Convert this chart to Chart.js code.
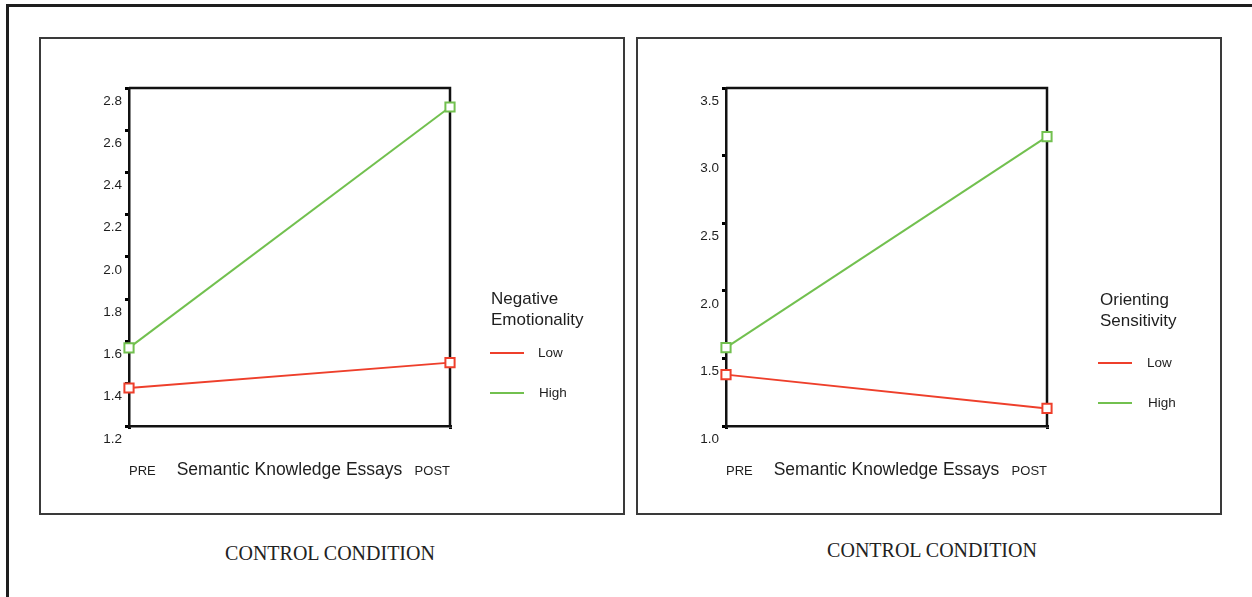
<!DOCTYPE html>
<html>
<head>
<meta charset="utf-8">
<script src="https://cdn.jsdelivr.net/npm/chart.js@4"></script>
<style>
  html, body { margin: 0; padding: 0; background: #fff; }
  #page { position: relative; width: 1252px; height: 597px; overflow: hidden; }
  .outer { position: absolute; left: 6px; top: 4px; width: 1400px; height: 800px;
           border-top: 3px solid #1e1e1e; border-left: 3px solid #1e1e1e; }
  .panel { position: absolute; top: 37px; width: 586px; height: 478px;
           box-sizing: border-box; border: 2px solid #3a3a3a; }
  .panel canvas { position: absolute; left: 0; top: 0; }
  .caption { position: absolute; width: 400px; text-align: center; color: #222;
             font-family: "Liberation Serif", "Times New Roman", serif;
             font-size: 20px; line-height: 20px; }
</style>
</head>
<body>
<div id="page">
  <div class="outer"></div>
  <div class="panel" style="left:39px"><canvas id="negEmo" width="582" height="474" style="width:582px;height:474px"></canvas></div>
  <div class="panel" style="left:636px"><canvas id="orient" width="582" height="474" style="width:582px;height:474px"></canvas></div>
  <div class="caption" style="left:130px;top:543px">CONTROL CONDITION</div>
  <div class="caption" style="left:732px;top:540px">CONTROL CONDITION</div>
</div>
<script>
// x categories shared by both panels
const phases = ["PRE", "POST"];

// Negative Emotionality panel
const negEmoLow = [1.38, 1.50];
const negEmoHigh = [1.57, 2.71];
const negEmoTicks = [1.2, 1.4, 1.6, 1.8, 2.0, 2.2, 2.4, 2.6, 2.8];

// Orienting Sensitivity panel
const orientLow = [1.38, 1.13];
const orientHigh = [1.58, 3.14];
const orientTicks = [1.0, 1.5, 2.0, 2.5, 3.0, 3.5];

const seriesNames = ["Low", "High"];
const RED = "#ee3f2b";
const GREEN = "#72c04f";
const SANS = '"Liberation Sans", Arial, sans-serif';

// top + right edges of the plot box (the axes only give left/bottom)
const frameBox = {
  id: "frameBox",
  beforeDatasetsDraw(chart) {
    const { ctx, chartArea: a } = chart;
    ctx.save();
    ctx.strokeStyle = "#111";
    ctx.lineWidth = 2.5;
    ctx.beginPath();
    ctx.moveTo(a.left, a.top);
    ctx.lineTo(a.right, a.top);
    ctx.lineTo(a.right, a.bottom);
    ctx.stroke();
    ctx.restore();
  },
};

// legend to the right of the plot: two-line title, then line swatches
const sideLegend = {
  id: "sideLegend",
  afterDraw(chart, args, opts) {
    const ctx = chart.ctx;
    ctx.save();
    ctx.fillStyle = "#1e1e1e";
    ctx.textBaseline = "middle";
    ctx.textAlign = "left";
    ctx.font = "17px " + SANS;
    opts.title.forEach((line, i) => ctx.fillText(line, opts.x, opts.titleY + i * 21));
    chart.data.datasets.forEach((ds, i) => {
      const y = opts.itemY + i * 40;
      ctx.strokeStyle = ds.borderColor;
      ctx.lineWidth = 2;
      ctx.beginPath();
      ctx.moveTo(opts.lineX, y);
      ctx.lineTo(opts.lineX + 34, y);
      ctx.stroke();
      ctx.font = "13.5px " + SANS;
      ctx.fillText(ds.label, opts.textX + i, y);
    });
    ctx.restore();
  },
};

function series(label, data, color) {
  return {
    label,
    data,
    borderColor: color,
    backgroundColor: "#fff",
    borderWidth: 2,
    pointStyle: "rect",
    pointRadius: 6.5,
    pointBorderWidth: 2,
    pointBackgroundColor: "#fff",
    pointBorderColor: color,
    tension: 0,
    clip: false,
  };
}

function buildPanel(canvas, { low, high, ticks, legend }) {
  return new Chart(canvas, {
    type: "line",
    data: {
      labels: phases,
      datasets: [series(seriesNames[0], low, RED), series(seriesNames[1], high, GREEN)],
    },
    options: {
      responsive: false,
      animation: false,
      layout: { padding: { left: 38, right: 173, top: 49, bottom: 0 } },
      plugins: {
        legend: { display: false },
        tooltip: { enabled: false },
        sideLegend: legend,
      },
      scales: {
        x: {
          type: "category",
          offset: false,
          afterFit: (s) => { s.height = 87; },
          grid: { display: true, drawOnChartArea: false, tickLength: 3, lineWidth: 3, color: "#000" },
          border: { display: true, color: "#111", width: 2.5 },
          ticks: { align: "inner", padding: 35, maxRotation: 0, color: "#1e1e1e", font: { family: SANS, size: 13 } },
          title: {
            display: true,
            text: "Semantic Knowledge Essays",
            color: "#1e1e1e",
            font: { family: SANS, size: 17.5 },
            padding: { top: 0, bottom: 32 },
          },
        },
        y: {
          min: ticks[0],
          max: ticks[ticks.length - 1],
          afterFit: (s) => { s.width = 50; },
          afterBuildTicks: (s) => { s.ticks = ticks.map((v) => ({ value: v })); },
          grid: { display: true, drawOnChartArea: false, tickLength: 4, lineWidth: 3, color: "#000" },
          border: { display: true, color: "#111", width: 2.5 },
          ticks: {
            padding: 3,
            labelOffset: 13,
            color: "#1e1e1e",
            font: { family: SANS, size: 13.5 },
            callback: (v) => Number(v).toFixed(1),
          },
        },
      },
    },
    plugins: [frameBox, sideLegend],
  });
}

buildPanel(document.getElementById("negEmo"), {
  low: negEmoLow,
  high: negEmoHigh,
  ticks: negEmoTicks,
  legend: { title: ["Negative", "Emotionality"], x: 450, titleY: 260, lineX: 449, textX: 497, itemY: 314 },
});

buildPanel(document.getElementById("orient"), {
  low: orientLow,
  high: orientHigh,
  ticks: orientTicks,
  legend: { title: ["Orienting", "Sensitivity"], x: 462, titleY: 261, lineX: 460, textX: 509, itemY: 324 },
});
</script>
</body>
</html>
